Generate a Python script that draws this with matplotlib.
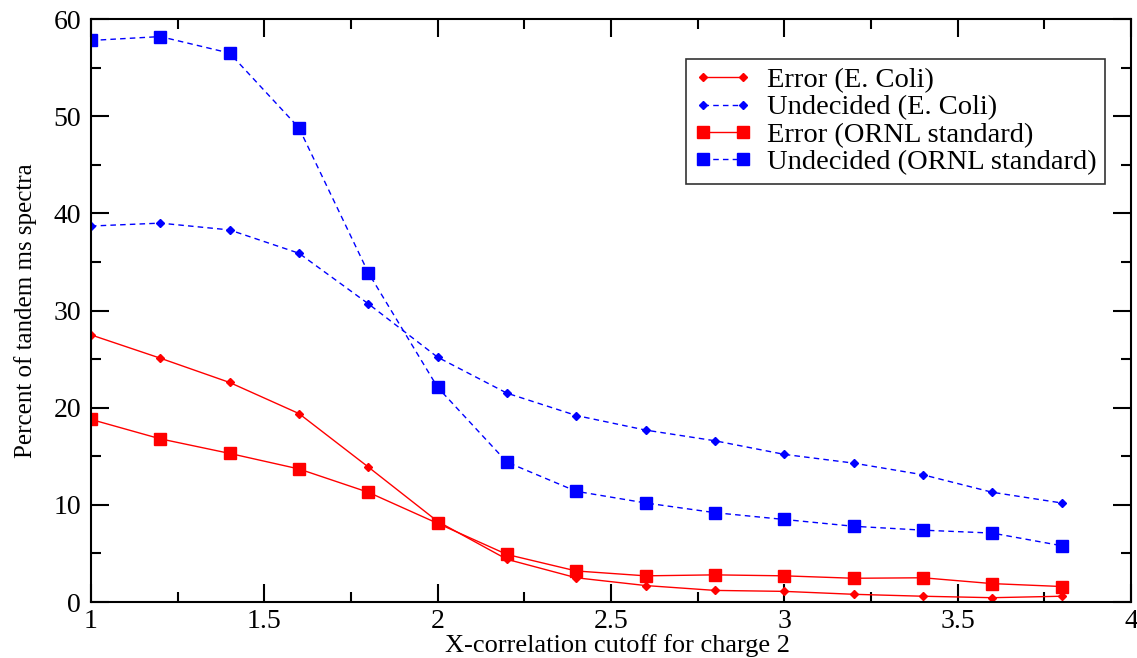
import matplotlib
matplotlib.use("Agg")
import matplotlib.pyplot as plt
import matplotlib.ticker as ticker

plt.rcParams['font.family'] = ['Liberation Serif', 'DejaVu Serif']

cutoff = [1.0, 1.2, 1.4, 1.6, 1.8, 2.0, 2.2, 2.4, 2.6, 2.8, 3.0, 3.2, 3.4, 3.6, 3.8]
error_ecoli = [27.5, 25.1, 22.6, 19.4, 13.9, 8.3, 4.4, 2.5, 1.7, 1.2, 1.1, 0.8, 0.6, 0.45, 0.6]
undecided_ecoli = [38.7, 39.0, 38.3, 35.9, 30.7, 25.2, 21.5, 19.2, 17.7, 16.6, 15.2, 14.3, 13.1, 11.3, 10.2]
error_ornl = [18.8, 16.8, 15.3, 13.7, 11.3, 8.1, 4.9, 3.2, 2.7, 2.8, 2.7, 2.45, 2.5, 1.9, 1.6]
undecided_ornl = [57.8, 58.2, 56.5, 48.8, 33.9, 22.1, 14.4, 11.4, 10.2, 9.2, 8.5, 7.8, 7.4, 7.1, 5.8]

fig = plt.figure(figsize=(11.37, 6.58), dpi=100)
ax = fig.add_axes([0.080, 0.085, 0.9147, 0.886])

dash = (0, (4, 3))
ax.plot(cutoff, error_ecoli, '-', color='red', lw=1, marker='D', ms=4.5, label='Error (E. Coli)')
ax.plot(cutoff, undecided_ecoli, linestyle=dash, color='blue', lw=1, marker='D', ms=4.5,
        label='Undecided (E. Coli)')
ax.plot(cutoff, error_ornl, '-', color='red', lw=1, marker='s', ms=8, label='Error (ORNL standard)')
ax.plot(cutoff, undecided_ornl, linestyle=dash, color='blue', lw=1, marker='s', ms=8,
        label='Undecided (ORNL standard)')

ax.set_xlim(1, 4)
ax.set_ylim(0, 60)
ax.xaxis.set_major_locator(ticker.MultipleLocator(0.5))
ax.xaxis.set_minor_locator(ticker.MultipleLocator(0.25))
ax.yaxis.set_major_locator(ticker.MultipleLocator(10))
ax.yaxis.set_minor_locator(ticker.MultipleLocator(5))
ax.xaxis.set_major_formatter(ticker.FuncFormatter(lambda v, p: '%g' % v))
ax.tick_params(which='both', direction='in', top=True, right=True, labelsize=20, width=1.5)
ax.tick_params(which='major', length=13, pad=7)
ax.tick_params(axis='x', which='major', pad=5)
ax.tick_params(which='minor', length=7)
for s in ax.spines.values():
    s.set_linewidth(1.5)

ax.set_xlabel('X-correlation cutoff for charge 2', fontsize=19, va='center')
ax.xaxis.set_label_coords(0.506, -0.074)
ax.set_ylabel('Percent of tandem ms spectra', fontsize=18, labelpad=12)

leg = ax.legend(loc='upper right', bbox_to_anchor=(0.9755, 0.932), fontsize=20.5, frameon=True,
                fancybox=False, edgecolor='black', handlelength=2.0, borderpad=0.3,
                labelspacing=0.05, handletextpad=0.55, borderaxespad=0, numpoints=2)
leg.get_frame().set_linewidth(1.2)

fig.savefig('out.png', dpi=100)
